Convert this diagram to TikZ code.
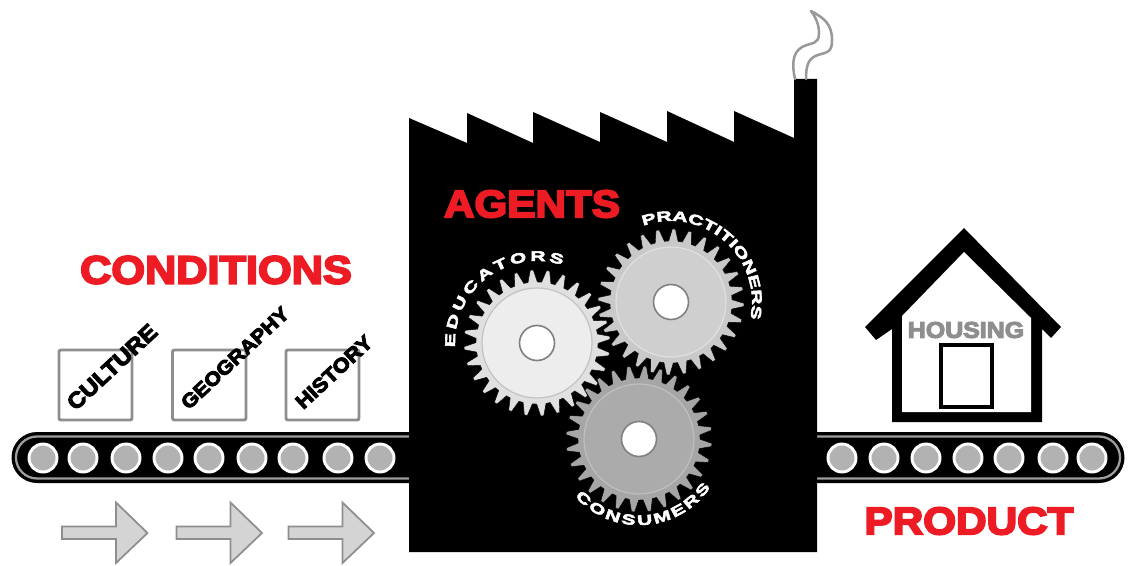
\documentclass[tikz,border=0pt]{standalone}
\usepackage{fontspec}
\usetikzlibrary{decorations.text}
\newfontfamily\heavy{Liberation Sans}[BoldFeatures={FakeStretch=1.1,FakeBold=5}]
\newfontfamily\heavywide{Liberation Sans}[BoldFeatures={FakeStretch=1.5,FakeBold=4}]
\newcommand{\hv}[1]{\heavy\bfseries\fontsize{#1}{#1}\selectfont}
\newcommand{\hw}[1]{\heavywide\bfseries\fontsize{#1}{#1}\selectfont}
\definecolor{redtxt}{HTML}{ED1C24}
\definecolor{boxgray}{HTML}{8E8E8E}
\definecolor{rollgray}{HTML}{B2B2B2}
\tikzset{
  headline/.style={text=redtxt,inner sep=0pt,font=\hv{28.8}},
  itemlabel/.style={text=black,inner sep=0pt,rotate=43},
  itembox/.style={draw=boxgray,line width=2.2pt,rounded corners=1.5pt,fill=white},
  roller/.style={circle,draw=white,line width=2.2pt,fill=rollgray,minimum size=21pt,inner sep=0pt},
  flowarrow/.style={draw=boxgray,line width=1.3pt,fill=black!17,line join=miter},
  beltline/.style={draw=black!38,line width=1.7pt},
  smoke/.style={draw=black!40,line width=1.9pt,line cap=round},
  geartext/.style={decorate,decoration={text along path,text color=white,text align={fit to path}}}
}
% #1 x, #2 y, #3 body, #4 ring, #5 inner disc, #6 tooth phase
\newcommand{\drawgear}[6]{%
  \begin{scope}[shift={(#1,#2)},y=0.75pt]
    \fill[#3,draw=black,line width=0.3pt] ({#6-4.4}:61)
      \foreach \k in {0,...,27}{
        -- ({#6+\k*360/28-4.4}:61) -- ({#6+\k*360/28-1.2}:73)
        -- ({#6+\k*360/28+1.2}:73) -- ({#6+\k*360/28+4.4}:61)
      } -- cycle;
    \draw[#4,fill=#5,line width=0.9pt] (0,0) circle[radius=55];
    \draw[black!50,fill=white,line width=1.2pt] (0,0) circle[radius=17.5];
  \end{scope}}
\begin{document}
\begin{tikzpicture}[x=0.75pt,y=-0.75pt]
\useasboundingbox (0,0) rectangle (1130,566);
\fill[white] (0,0) rectangle (1130,566);

% left conveyor
\fill[black] (415,432) -- (37,432) arc[start angle=90,end angle=270,x radius=25.5,y radius=-25.5] -- (415,483) -- cycle;
\draw[beltline] (410,436.5) -- (37,436.5) arc[start angle=90,end angle=270,x radius=21,y radius=-21] -- (410,478.5);
\foreach \n/\x in {1/43,2/83,3/126,4/168,5/209,6/252,7/293,8/338,9/380}
  \node[roller] (lr\n) at (\x,458) {};

% right conveyor
\fill[black] (810,432) -- (1099,432) arc[start angle=90,end angle=-90,x radius=25.5,y radius=-25.5] -- (810,483) -- cycle;
\draw[beltline] (815,436.5) -- (1099,436.5) arc[start angle=90,end angle=-90,x radius=21,y radius=-21] -- (815,478.5);
\foreach \n/\x in {1/842,2/884,3/926,4/968,5/1009,6/1053,7/1092}
  \node[roller] (rr\n) at (\x,458) {};

% boxes
\draw[itembox] (59,350) rectangle (132,420);
\draw[itembox] (172.5,350) rectangle (246,420);
\draw[itembox] (286,350) rectangle (359,420);
\node[itemlabel,font=\hv{16.5}] (culture) at (112,367) {CULTURE};
\node[itemlabel,font=\hv{14.6}] (geography) at (235,358) {GEOGRAPHY};
\node[itemlabel,font=\hv{15}] (history) at (334,372) {HISTORY};

% arrows
\foreach \x in {0,114.5,226.5}{
  \begin{scope}[xshift=\x*0.75pt]
    \draw[flowarrow] (62,526.5) -- (116,526.5) -- (116,502.5) -- (147.5,533) -- (116,563) -- (116,539) -- (62,539) -- cycle;
  \end{scope}}

% factory
\fill[black] (409,552) -- (409,118) -- (467,143) -- (467,113) -- (533,143) -- (533,112)
  -- (600,142) -- (600,112) -- (667,142) -- (667,111) -- (734,142) -- (734,111) -- (794,138)
  -- (794,79) -- (817,79) -- (817,552) -- cycle;

% smoke
\draw[smoke] (795,79) .. controls (792,65) and (792,53) .. (802,47)
  .. controls (812,42) and (819,45) .. (819,33) .. controls (819,24) and (815,16) .. (811,11);
\draw[smoke] (806,79) .. controls (806,66) and (808,58) .. (818,55)
  .. controls (828,52) and (832,52) .. (832,40) .. controls (832,24) and (824,18) .. (811,11);

% gears
\drawgear{537}{343}{black!12}{black!24}{black!7}{4.1}
\drawgear{671}{302}{black!21}{black!12}{black!19}{10.6}
\drawgear{639}{439}{black!35}{black!25}{black!33}{8.2}

\begin{scope}[shift={(537,343)},y=0.75pt]
  \path[geartext,decoration={text={|\hw{10.5}|EDUCATORS}}] (183:82) arc[start angle=183,end angle=72,radius=82];
\end{scope}
\begin{scope}[shift={(671,302)},y=0.75pt]
  \path[geartext,decoration={text={|\hw{10.5}|PRACTITIONERS}}] (110:81) arc[start angle=110,end angle=-12,radius=81];
\end{scope}
\begin{scope}[shift={(639,439)},y=0.75pt]
  \path[geartext,decoration={text={|\hw{10.5}|CONSUMERS}}] (222:86) arc[start angle=222,end angle=326,radius=86];
\end{scope}

% headings
\node[headline,font=\hv{29.5}] (conditions) at (216,270) {CONDITIONS};
\node[headline] (agents) at (532,204) {AGENTS};
\node[headline] (product) at (969,521) {PRODUCT};

% house
\fill[black] (964,228) -- (1061,327) -- (1051,338) -- (1042,329) -- (1042,422) -- (892,422)
  -- (892,329) -- (876,340) -- (865,327) -- cycle;
\fill[white] (964,252) -- (1031,318) -- (1031,412) -- (902,412) -- (902,316) -- cycle;
\draw[black,line width=3.2pt] (941,345) rectangle (992,407);
\node[inner sep=0pt,text=boxgray,font=\hv{17}] (housing) at (966,330) {HOUSING};
\end{tikzpicture}
\end{document}
